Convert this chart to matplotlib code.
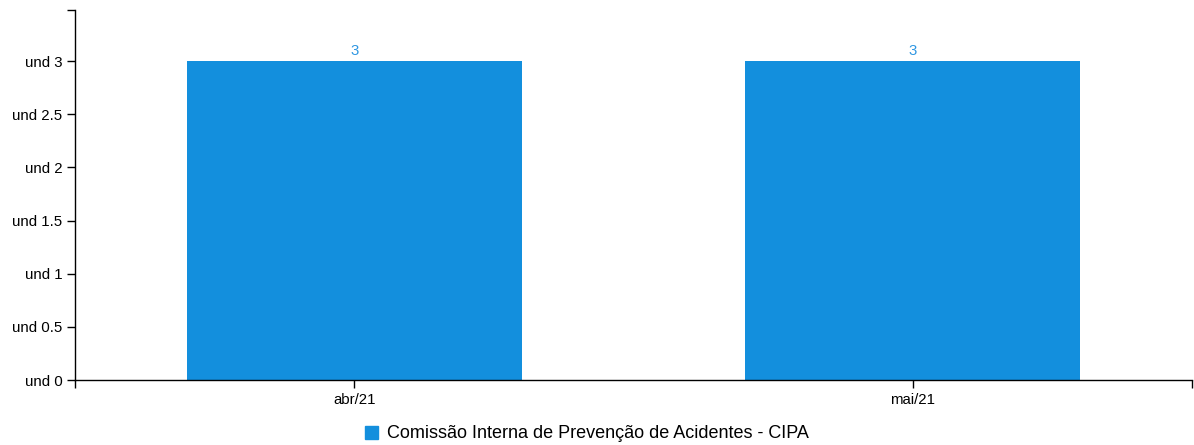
import matplotlib.pyplot as plt
from matplotlib.patches import Patch

# chart data
months = ['abr/21', 'mai/21']
values = [3, 3]
series = 'Comissão Interna de Prevenção de Acidentes - CIPA'
yticks = [0, 0.5, 1, 1.5, 2, 2.5, 3]
ymax = 3.48

plt.rcParams['font.family'] = ['Liberation Sans', 'DejaVu Sans']

fig = plt.figure(figsize=(11.94, 4.45), dpi=100)
ax = fig.add_axes([75/1194, 65/445, (1192-75)/1194, (380-10)/445])

barColor = '#138fdd'
x = list(range(len(months)))
ax.bar(x, values, width=0.6, color=barColor)
for xi, v in zip(x, values):
    ax.annotate(str(v), (xi, v), xytext=(0, 2), textcoords='offset points',
                ha='center', va='bottom', fontsize=10.8, color='#2f97e2')

ax.set_xlim(-0.5, len(months) - 0.5)
ax.set_ylim(0, ymax)
ax.set_xticks(x)
ax.set_xticklabels(months)
ax.set_yticks(yticks)
ax.set_yticklabels(['und ' + ('%g' % t) for t in yticks])

# outer ticks like a d3 domain path
ax.set_xticks([-0.5, len(months) - 0.5], minor=True)
ax.set_yticks([ymax], minor=True)
ax.tick_params(which='both', length=6, width=1, color='black', labelsize=10.8, pad=3)

for s in ['top', 'right']:
    ax.spines[s].set_visible(False)
for s in ['left', 'bottom']:
    ax.spines[s].set_linewidth(1)

fig.legend(handles=[Patch(color=barColor)], labels=[series], loc='center',
           bbox_to_anchor=(587/1194, 1 - 434/445), frameon=False, fontsize=13,
           handlelength=0.75, handleheight=0.75, handletextpad=0.5)

plt.savefig('out.png')
